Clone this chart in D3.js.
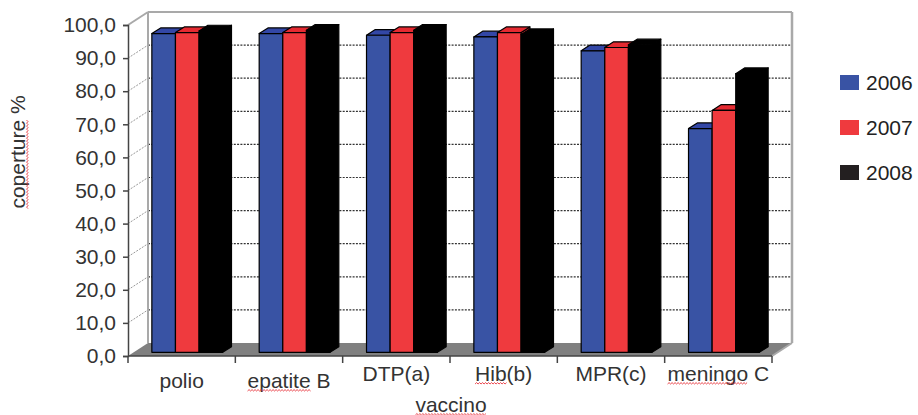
<!DOCTYPE html>
<html>
<head>
<meta charset="utf-8">
<script src="https://cdn.jsdelivr.net/npm/d3@7"></script>
<style>
body { margin: 0; background: #fff; }
text { font-family: "Liberation Sans", Arial, sans-serif; }
</style>
</head>
<body>
<div id="chart-area"></div>
<script>
let width = 918,
height = 415;

// data
let categories = ["polio", "epatite B", "DTP(a)", "Hib(b)", "MPR(c)", "meningo C"];
let years = ["2006", "2007", "2008"];
let values2006 = [96.3, 96.3, 95.8, 95.3, 91.1, 67.6];
let values2007 = [96.6, 96.6, 96.6, 96.6, 92.1, 73.1];
let values2008 = [97.1, 97.3, 97.3, 96.0, 92.9, 84.2];
let yTicks = [0, 10, 20, 30, 40, 50, 60, 70, 80, 90, 100];

let series = [values2006, values2007, values2008];
let frontColors = ["#3953a4", "#ef3a3e", "#000000"];
let topColors = ["#3347a6", "#e52a31", "#000000"];
let legendColors = ["#3953a4", "#ef3a3e", "#231f20"];

let svg = d3.select("#chart-area").append("svg")
	.attr("width", width)
	.attr("height", height);

// front plane scales
let x0 = d3.scaleBand().domain(categories).range([128, 772]);
let x1 = d3.scaleBand().domain(years)
	.range([x0.bandwidth() * 0.17, x0.bandwidth() * 0.83]);
let y = d3.scaleLinear().domain([0, 100]).range([356, 25]);

// depth offset: 0 = front plane, 1 = back wall
let DX = 20, DY = 13;
function pt(x, v, d) { return [x + d * DX, y(v) - d * DY]; }

let xl = x0.range()[0], xr = x0.range()[1];

// walls and floor
svg.append("polygon")
	.attr("points", [pt(xl, 100, 1), pt(xr, 100, 1), pt(xr, 0, 1), pt(xl, 0, 1)].join(" "))
	.attr("fill", "#fff");
svg.append("polygon")
	.attr("points", [pt(xl, 100, 0), pt(xl, 100, 1), pt(xl, 0, 1), pt(xl, 0, 0)].join(" "))
	.attr("fill", "#fff");
svg.append("polygon")
	.attr("points", [pt(xl, 0, 0), pt(xl, 0, 1), pt(xr, 0, 1), pt(xr, 0, 0)].join(" "))
	.attr("fill", "#808080");

let inner = yTicks.filter(t => t > 0 && t < 100);

svg.selectAll(".grid")
	.data(inner)
	.enter().append("line")
	.attr("class", "grid")
	.attr("x1", t => pt(xl, t, 1)[0])
	.attr("y1", t => pt(xl, t, 1)[1])
	.attr("x2", t => pt(xr, t, 1)[0])
	.attr("y2", t => pt(xr, t, 1)[1])
	.attr("stroke", "#333")
	.attr("stroke-width", 1.2)
	.attr("stroke-dasharray", "2,1.3");

svg.selectAll(".sidegrid")
	.data(inner)
	.enter().append("line")
	.attr("class", "sidegrid")
	.attr("x1", t => pt(xl, t, 0)[0])
	.attr("y1", t => pt(xl, t, 0)[1])
	.attr("x2", t => pt(xl, t, 1)[0])
	.attr("y2", t => pt(xl, t, 1)[1])
	.attr("stroke", "#999")
	.attr("stroke-dasharray", "2,1.3");

let edges = [
	[pt(xl, 100, 1), pt(xr, 100, 1)],
	[pt(xr, 100, 1), pt(xr, 0, 1)],
	[pt(xl, 100, 1), pt(xl, 0, 1)],
	[pt(xl, 100, 0), pt(xl, 100, 1)],
	[pt(xr, 0, 0), pt(xr, 0, 1)]
];
svg.selectAll(".edge")
	.data(edges)
	.enter().append("line")
	.attr("class", "edge")
	.attr("x1", d => d[0][0]).attr("y1", d => d[0][1])
	.attr("x2", d => d[1][0]).attr("y2", d => d[1][1])
	.attr("stroke", "#a9a9a9")
	.attr("stroke-width", (d, i) => i == 1 ? 2.5 : 2);

// bars
let bars = [];
categories.forEach((c, ci) => {
	years.forEach((yr, si) => {
		bars.push({cat: c, year: yr, si: si, v: series[si][ci]});
	});
});

let f0 = 0.28, f1 = 0.72;

let barG = svg.selectAll(".bar")
	.data(bars)
	.enter().append("g")
	.attr("class", "bar");

function left(d) { return x0(d.cat) + x1(d.year); }
function right(d) { return left(d) + x1.bandwidth(); }

barG.append("polygon")
	.attr("points", d => [pt(right(d), d.v, f0), pt(right(d), d.v, f1), pt(right(d), 0, f1), pt(right(d), 0, f0)].join(" "))
	.attr("fill", d => frontColors[d.si])
	.attr("stroke", "#000")
	.attr("stroke-width", 1.2)
	.attr("stroke-linejoin", "round");

barG.append("polygon")
	.attr("points", d => [pt(left(d), d.v, f0), pt(left(d), d.v, f1), pt(right(d), d.v, f1), pt(right(d), d.v, f0)].join(" "))
	.attr("fill", d => topColors[d.si])
	.attr("stroke", "#000")
	.attr("stroke-width", 1.2)
	.attr("stroke-linejoin", "round");

barG.append("polygon")
	.attr("points", d => [pt(left(d), d.v, f0), pt(right(d), d.v, f0), pt(right(d), 0, f0), pt(left(d), 0, f0)].join(" "))
	.attr("fill", d => frontColors[d.si])
	.attr("stroke", "#000")
	.attr("stroke-width", 1.2)
	.attr("stroke-linejoin", "round");

// y axis
let yAxis = svg.append("g")
	.attr("transform", "translate(" + xl + ",0)")
	.call(d3.axisLeft(y)
		.tickValues(yTicks)
		.tickSize(5)
		.tickPadding(7)
		.tickFormat(d => d3.format(".1f")(d).replace(".", ",")));
yAxis.select(".domain").attr("stroke", "#444").attr("stroke-width", 1.5);
yAxis.selectAll(".tick line").attr("stroke", "#444").attr("stroke-width", 1.5);
yAxis.selectAll(".tick text")
	.attr("font-size", 21)
	.attr("font-family", "Liberation Sans, Arial, sans-serif")
	.attr("fill", "#333");

// x axis
svg.append("line")
	.attr("x1", xl).attr("x2", xr)
	.attr("y1", y(0)).attr("y2", y(0))
	.attr("stroke", "#444").attr("stroke-width", 1.5);

svg.selectAll(".xtick")
	.data(categories.map(c => x0(c)).concat([xr]))
	.enter().append("line")
	.attr("class", "xtick")
	.attr("x1", d => d).attr("x2", d => d)
	.attr("y1", y(0)).attr("y2", y(0) + 7)
	.attr("stroke", "#444").attr("stroke-width", 1.5);

let xLabels = svg.selectAll(".xlabel")
	.data(categories)
	.enter().append("text")
	.attr("class", "xlabel")
	.attr("x", d => x0(d) + x0.bandwidth() / 2)
	.attr("y", (d, i) => y(0) + 25 + (i < 2 ? 7 : 0))
	.attr("text-anchor", "middle")
	.attr("font-size", 21)
	.attr("fill", "#333")
	.text(d => d);

// axis titles
let xTitle = svg.append("text")
	.attr("x", (xl + xr) / 2 + 1)
	.attr("y", 412)
	.attr("text-anchor", "middle")
	.attr("font-size", 21)
	.attr("fill", "#333")
	.text("vaccino");

let yTitleG = svg.append("g").attr("transform", "translate(25,152) rotate(-90)");
let yTitle = yTitleG.append("text")
	.attr("x", 0).attr("y", 0)
	.attr("text-anchor", "middle")
	.attr("font-size", 21)
	.attr("fill", "#333")
	.text("coperture %");

// spell-check squiggles under some words
function squiggle(parent, textSel, cx, base, start, count) {
	let node = textSel.node();
	let total = node.getComputedTextLength();
	let sx = cx - total / 2 + (start > 0 ? node.getSubStringLength(0, start) : 0);
	let len = node.getSubStringLength(start, count);
	let p = "M" + sx + "," + (base + 3);
	let up = true;
	for (let x = 1.5; x <= len; x += 1.5) {
		p += " L" + (sx + x) + "," + (base + (up ? 1.6 : 3));
		up = !up;
	}
	parent.append("path")
		.attr("d", p)
		.attr("fill", "none")
		.attr("stroke", "#e8323a")
		.attr("stroke-width", 0.9);
}

xLabels.each(function(d, i) {
	let words = {"epatite B": 7, "Hib(b)": 3, "meningo C": 7};
	if (words[d]) {
		let t = d3.select(this);
		squiggle(svg, t, +t.attr("x"), +t.attr("y"), 0, words[d]);
	}
});
squiggle(svg, xTitle, +xTitle.attr("x"), 412, 0, 7);
squiggle(yTitleG, yTitle, 0, 0, 0, 9);

// legend
let legend = svg.selectAll(".legend")
	.data(years)
	.enter().append("g")
	.attr("class", "legend")
	.attr("transform", (d, i) => "translate(840," + (75 + i * 45) + ")");

legend.append("rect")
	.attr("width", 19)
	.attr("height", 15)
	.attr("fill", (d, i) => legendColors[i]);

legend.append("text")
	.attr("x", 26)
	.attr("y", 15)
	.attr("font-size", 21)
	.attr("fill", "#222")
	.text(d => d);
</script>
</body>
</html>
